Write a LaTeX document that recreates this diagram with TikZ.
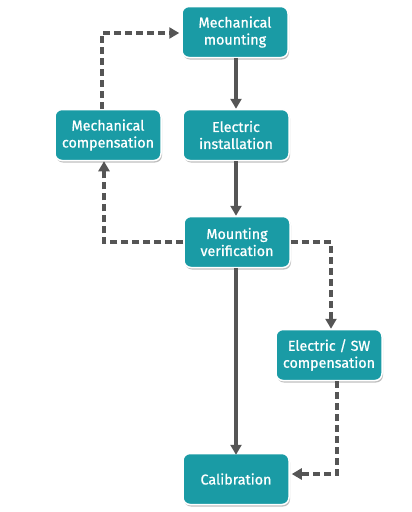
\documentclass[tikz,border=0pt]{standalone}
\usepackage{fontspec}
\setmainfont{Fira Sans}[FakeBold=0.8]
\usetikzlibrary{arrows.meta,shadows}
\definecolor{boxteal}{HTML}{1A9BA5}
\definecolor{linegray}{HTML}{555555}
\tikzset{
  stepbox/.style={draw=white, line width=1.5pt, fill=boxteal, rounded corners=7pt,
    minimum width=106pt, minimum height=51pt, align=center, text=white,
    font=\fontsize{14.3}{17}\selectfont,
    drop shadow={shadow xshift=1pt, shadow yshift=-2pt, opacity=0.25, fill=black}},
  solidarrow/.style={draw=linegray, line width=3.2pt, -{Triangle[length=10pt,width=11pt]}},
  dasharrow/.style={draw=linegray, line width=3.2pt, dash pattern=on 7pt off 4pt, -{Triangle[length=10pt,width=11pt]}}
}
\begin{document}
\begin{tikzpicture}[x=1pt,y=-1pt]
\useasboundingbox (0,0) rectangle (412,512);
\node[stepbox] (mm) at (235,32) {Mechanical\\mounting};
\node[stepbox] (mc) at (108,135) {Mechanical\\compensation};
\node[stepbox] (ei) at (236,135) {Electric\\installation};
\node[stepbox] (mv) at (237,242) {Mounting\\verification};
\node[stepbox] (esw) at (329,355) {Electric / SW\\compensation};
\node[stepbox] (cal) at (236,479) {Calibration};
\coordinate (c1) at (104,242);
\coordinate (c2) at (102,33);
\coordinate (c3) at (331,242);
\coordinate (c4) at (337,474);
\draw[solidarrow] (mm.south -| 236,0) -- (ei.north -| 236,0);
\draw[solidarrow] (ei.south -| 236,0) -- (mv.north -| 236,0);
\draw[solidarrow] (mv.south -| 236,0) -- ([yshift=-2pt]cal.north -| 236,0);
\draw[dasharrow] (mv.west) -- (c1) -- (c1 |- mc.south);
\draw[dasharrow] (mc.north -| c2) -- (c2) -- ([xshift=-2pt]mm.west |- c2);
\draw[dasharrow] (mv.east) -- (c3) -- (c3 |- esw.north);
\draw[dasharrow] (esw.south -| c4) -- (c4) -- ([xshift=2pt]cal.east |- c4);
\end{tikzpicture}
\end{document}
